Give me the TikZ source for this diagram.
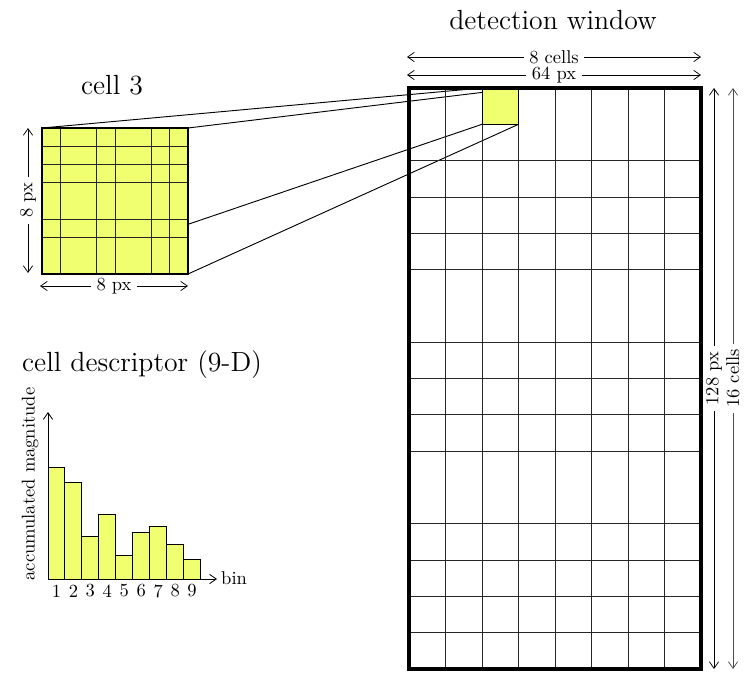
\documentclass[tikz,border=0pt]{standalone}
\usetikzlibrary{arrows.meta}
\definecolor{cellyellow}{RGB}{239,255,112}
\begin{document}
\begin{tikzpicture}[x=0.54pt,y=-0.54pt,
  tip/.tip={Straight Barb[length=3.6pt,width=5pt]},
  gridline/.style={line width=0.45pt, black!85},
  dimarrow/.style={tip-tip, line width=0.4pt},
  dimlabel/.style={fill=white, inner xsep=3pt, inner ysep=0pt, font=\normalsize},
  titlelabel/.style={font=\Large, scale=1.04},
  proj/.style={line width=0.5pt},
  histbar/.style={fill=cellyellow, draw=black, line width=0.5pt},
  plainlabel/.style={font=\normalsize, inner sep=1pt}]
\useasboundingbox (0,0) rectangle (744,672);

% ---- key coordinates
\coordinate (wNW) at (409,88);
\coordinate (wSE) at (701,669);
\coordinate (c3NW) at (42,128);
\coordinate (c3NE) at (188,128);
\coordinate (c3SW) at (42,274);
\coordinate (c3SE) at (188,274);
\coordinate (yNW) at (482,88);
\coordinate (yNE) at (518.5,88);
\coordinate (ySW) at (482,124.3);
\coordinate (ySE) at (518.5,124.3);

% ---- titles
\node[titlelabel] (tdet) at (553,20) {detection window};
\node[titlelabel] (tcell) at (112,85) {cell 3};
\node[titlelabel] (tdesc) at (142,365) {cell descriptor (9-D)};

% ---- window dimensions
\coordinate (a1l) at (407,57); \coordinate (a1r) at (701,57);
\coordinate (a2l) at (407,75); \coordinate (a2r) at (701,75);
\coordinate (a3t) at (714,88); \coordinate (a3b) at (714,669);
\coordinate (a4t) at (733,88); \coordinate (a4b) at (733,669);
\draw[dimarrow] (a1l) -- node[dimlabel] (l8cells) {8 cells} (a1r);
\draw[dimarrow] (a2l) -- node[dimlabel] (l64px) {64 px} (a2r);
\draw[dimarrow] (a3b) -- node[dimlabel, rotate=90] (l128px) {128 px} (a3t);
\draw[dimarrow, black!70] (a4b) -- node[dimlabel, rotate=90, text=black] (l16cells) {16 cells} (a4t);

% ---- projection lines
\draw[proj] (c3NW) -- (yNW);
\draw[proj] (c3NE) -- (yNE);
\draw[proj] (c3SW) -- (ySW);
\draw[proj] (c3SE) -- (ySE);

% ---- detection window grid
\foreach \k in {1,...,7}
  \draw[gridline] (409+36.5*\k,88) -- (409+36.5*\k,669);
\foreach \k in {2,3,4,5,7,8,9,10,12,13,14,15}
  \draw[gridline] (409,88+36.3125*\k) -- (701,88+36.3125*\k);
\draw[fill=cellyellow, line width=0.5pt] (yNW) rectangle (ySE);
\draw[line width=2pt] (wNW) rectangle (wSE);

% ---- cell 3 (8x8 px)
\coordinate (b1t) at (28,128); \coordinate (b1b) at (28,273);
\coordinate (b2l) at (40,286); \coordinate (b2r) at (188,286);
\draw[dimarrow] (b1b) -- node[dimlabel, rotate=90] (l8pxv) {8 px} (b1t);
\draw[dimarrow] (b2l) -- node[dimlabel] (l8pxh) {8 px} (b2r);

\fill[cellyellow] (c3NW) rectangle (c3SE);
\foreach \k in {1,3,4,6,7}
  \draw[gridline] (42+18.25*\k,128) -- (42+18.25*\k,274);
\foreach \k in {1,2,3,5,6}
  \draw[gridline] (42,128+18.25*\k) -- (188,128+18.25*\k);
\draw[line width=1pt] (c3NW) rectangle (c3SE);

% ---- histogram
\coordinate (hO) at (48,579);
\coordinate (hY) at (48,412);
\coordinate (hX) at (217,579);
\foreach \i/\h in {1/111.3,2/96.7,3/42.3,4/64.7,5/24,6/46.3,7/52.3,8/34.7,9/20}{
  \draw[histbar] (48+16.95*\i-16.95,579) rectangle (48+16.95*\i,579-\h);
  \node[plainlabel] (tick\i) at (48+16.95*\i-8.475,591) {\i};
}
\draw[-tip, line width=0.45pt] (hO) -- (hY);
\draw[-tip, line width=0.45pt] (hO) -- (hX);
\node[plainlabel, anchor=west] (lbin) at (219,578) {bin};
\node[plainlabel, rotate=90] (lacc) at (30,484) {accumulated magnitude};
\end{tikzpicture}
\end{document}
